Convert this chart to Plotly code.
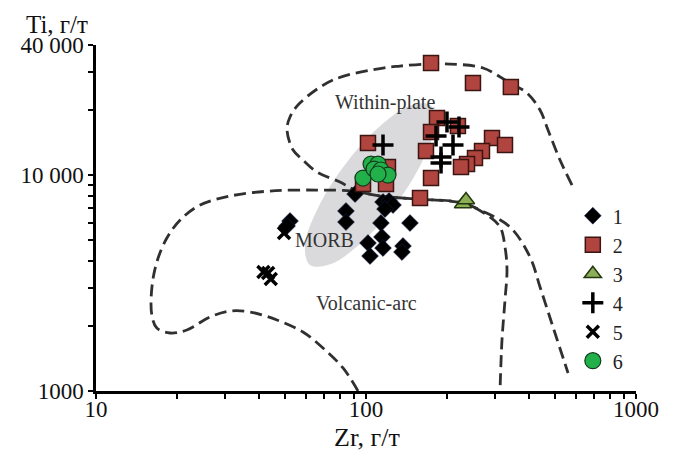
import plotly.graph_objects as go

# ---------------- data (Zr, Ti in g/t) ----------------
s1_zr = [91.1, 84.3, 84.3, 115.6, 121.7, 125.9, 117.6, 113.6, 114.6, 115.6, 101.7, 103.5, 145.5, 137.1, 135.9, 52.3, 51.0]
s1_ti = [8166, 6813, 6058, 7499, 7579, 7263, 6959, 5995, 5164, 4592, 4844, 4217, 5995, 4691, 4400, 6124, 5805]

s2_zr = [174.1, 249.0, 344.0, 183.2, 174.1, 219.0, 101.7, 166.8, 292.9, 327.2, 268.9, 253.3, 236.7, 224.8, 174.1, 158.5, 120.6, 118.6, 97.5]
s2_ti = [33000, 26660, 25550, 18360, 15820, 16860, 14070, 12910, 14840, 13770, 12910, 11990, 11240, 10890, 9685, 7825, 10890, 9085, 9085]

s3_zr = [228.7, 234.6]
s3_ti = [7340, 7660]

s4_zr = [115.6, 199.5, 221.0, 181.7, 210.0, 189.6, 189.6]
s4_ti = [13770, 17600, 16680, 15160, 13770, 12120, 11360]

s5_zr = [49.7, 41.7, 44.4, 43.4]
s5_ti = [5389, 3555, 3301, 3518]

s6_zr = [97.5, 104.4, 110.8, 107.1, 113.6, 120.6, 110.8]
s6_ti = [9685, 11240, 11240, 10660, 10550, 10000, 10110]

# field boundaries
wp_zr = [579.4, 523.0, 472.2, 441.1, 394.8, 341.5, 271.3, 204.7, 168.2, 133.6, 115.6, 75.5, 56.9, 52.3,
         51.0, 53.7, 58.4, 65.9, 80.1, 91.1, 112.7, 154.5, 228.7, 280.6, 313.6, 327.2, 332.8, 327.2, 318.9, 313.6]
wp_ti = [8989, 11730, 16160, 19990, 23970, 26660, 31290, 32650, 32650, 31960, 31290, 27540, 21540, 18560,
         16160, 13050, 11730, 10320, 9281, 8521, 7995, 7743, 7420, 6528, 5744, 4642, 3633, 2638, 1722, 1000]

va_zr = [93.4, 82.2, 69.3, 58.4, 46.8, 37.2, 31.4, 26.4, 21.7, 18.8, 16.8, 16.1, 16.1, 16.8, 18.3, 20.5,
         24.3, 31.4, 44.1, 65.9, 89.5, 112.7, 154.5, 228.7, 264.5, 341.5, 405.0, 441.1, 492.7, 560.1]
va_ti = [1000, 1278, 1581, 1876, 2132, 2322, 2346, 2200, 1917, 1856, 1957, 2248, 2999, 3955, 5109, 6190,
         7263, 7995, 8431, 8521, 8431, 7995, 7743, 7420, 6887, 5744, 4172, 3030, 1979, 1212]

morb_zr = [172.6, 180.1, 161.2, 129.2, 96.6, 74.2, 62.0, 59.4, 66.4, 82.9, 110.8, 144.3, 172.6]
morb_ti = [21100, 17040, 11490, 7340, 4896, 3873, 3831, 4742, 7035, 11010, 16510, 20870, 21100]

x_tickvals = [10, 100, 1000]
x_ticktext = ["10", "100", "1000"]
x_minor = [20, 30, 40, 50, 60, 70, 80, 90, 200, 300, 400, 500, 600, 700, 800, 900]
y_tickvals = [1000, 10000, 40000]
y_ticktext = ["1000", "10 000", "40 000"]
y_minor = [2000, 3000, 4000, 5000, 6000, 7000, 8000, 9000, 20000, 30000]

FONT = "Liberation Serif"
DASH = "12px,6px"
LINEC = "#303030"

fig = go.Figure()

fig.add_trace(go.Scatter(x=morb_zr, y=morb_ti, mode="lines", line=dict(shape="spline", width=0, color="#DADADD"),
                         fill="toself", fillcolor="#DADADD", showlegend=False, hoverinfo="skip"))
fig.add_trace(go.Scatter(x=wp_zr, y=wp_ti, mode="lines", line=dict(shape="spline", width=2.8, color=LINEC, dash=DASH),
                         showlegend=False, hoverinfo="skip"))
fig.add_trace(go.Scatter(x=va_zr, y=va_ti, mode="lines", line=dict(shape="spline", width=2.8, color=LINEC, dash=DASH),
                         showlegend=False, hoverinfo="skip"))

fig.add_trace(go.Scatter(x=s1_zr, y=s1_ti, mode="markers", name="1", legendgroup="1",
                         marker=dict(symbol="diamond", size=13, color="black", line=dict(width=0.5, color="#1a2a5a"))))
fig.add_trace(go.Scatter(x=s2_zr, y=s2_ti, mode="markers", name="2", legendgroup="2",
                         marker=dict(symbol="square", size=15, color="#B0443F", line=dict(width=1.5, color="#3a1512"))))
fig.add_trace(go.Scatter(x=s3_zr, y=s3_ti, mode="markers", name="3", legendgroup="3",
                         marker=dict(symbol="triangle-up", size=15, color="#8BAE57", line=dict(width=1.5, color="#24380f"))))
fig.add_trace(go.Scatter(x=s4_zr, y=s4_ti, mode="markers", name="4", legendgroup="4",
                         marker=dict(symbol="cross-thin", size=15, color="black", line=dict(width=3.5, color="black"))))
fig.add_trace(go.Scatter(x=s5_zr, y=s5_ti, mode="markers", name="5", legendgroup="5",
                         marker=dict(symbol="x-thin", size=12, color="black", line=dict(width=3.5, color="black"))))
fig.add_trace(go.Scatter(x=s6_zr, y=s6_ti, mode="markers", name="6", legendgroup="6",
                         marker=dict(symbol="circle", size=16, color="#22B04B", line=dict(width=1.2, color="#143a1c"))))

axis_common = dict(type="log", showgrid=False, zeroline=False, showline=True, linecolor="black", linewidth=2.5,
                   ticks="outside", ticklen=5, tickwidth=2, tickcolor="black",
                   tickfont=dict(family=FONT, size=23, color="#111"))

fig.update_xaxes(range=[1, 3], tickmode="array", tickvals=x_tickvals, ticktext=x_ticktext, ticklabelstandoff=-9,
                 minor=dict(tickmode="array", tickvals=x_minor, ticks="outside", ticklen=5, tickwidth=2, tickcolor="black"),
                 **axis_common)
fig.update_yaxes(range=[3, 4.60206], tickmode="array", tickvals=y_tickvals, ticktext=y_ticktext,
                 minor=dict(tickmode="array", tickvals=y_minor, ticks="outside", ticklen=5, tickwidth=2, tickcolor="black"),
                 **axis_common)

ann_font = dict(family=FONT, size=20, color="#333")
fig.add_annotation(x=2.0704, y=4.338, xref="x", yref="y", text="Within-plate", showarrow=False, font=ann_font)
fig.add_annotation(x=1.848, y=3.699, xref="x", yref="y", text="MORB", showarrow=False, font=ann_font)
fig.add_annotation(x=2.0, y=3.407, xref="x", yref="y", text="Volcanic-arc", showarrow=False, font=ann_font)

fig.add_annotation(x=-0.072, y=1.058, xref="paper", yref="paper", xanchor="center", yanchor="middle",
                   text="Ti, г/т", showarrow=False, font=dict(family=FONT, size=25, color="#111"))
fig.add_annotation(x=0.502, y=-0.135, xref="paper", yref="paper", xanchor="center", yanchor="middle",
                   text="Zr, г/т", showarrow=False, font=dict(family=FONT, size=26, color="#111"))

# margins compensate for the 8px default page margin of the browser
fig.update_layout(width=673, height=454, margin=dict(l=88, r=45, t=37, b=71, autoexpand=False),
                  paper_bgcolor="white", plot_bgcolor="white",
                  font=dict(family=FONT, color="#111"),
                  legend=dict(x=0.883, y=0.563, xanchor="left", yanchor="top", bgcolor="rgba(0,0,0,0)",
                              font=dict(family=FONT, size=20, color="#222"), tracegroupgap=0,
                              itemsizing="trace"))

fig.write_html("out.html")
